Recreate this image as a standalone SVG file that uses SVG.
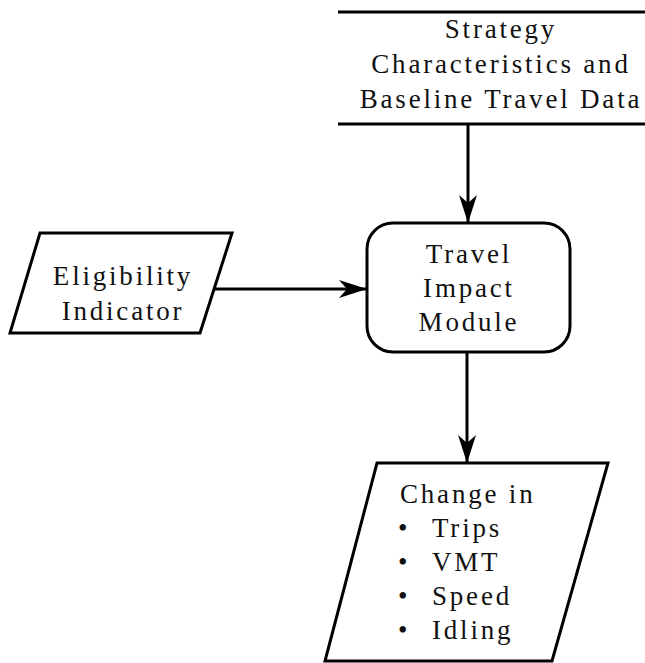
<svg xmlns="http://www.w3.org/2000/svg" width="645" height="663" viewBox="0 0 645 663">
  <style>
    .shape { fill: #fff; stroke: #000; stroke-width: 3; stroke-linejoin: miter; }
    .rule { stroke: #000; stroke-width: 3; fill: none; }
    .label { font-family: 'Liberation Serif', 'Times New Roman', Times, 'Nimbus Roman', 'Noto Serif', 'DejaVu Serif', Tinos, FreeSerif, serif; font-size: 27px; letter-spacing: 2.8px; fill: #111; }
    .mid { text-anchor: middle; }
    .wire { stroke: #000; stroke-width: 3; fill: none; }
  </style>
  <defs>
    <marker id="head" markerUnits="userSpaceOnUse" viewBox="0 0 28 20" refX="27" refY="10" markerWidth="28" markerHeight="20" orient="auto">
      <path d="M0,1 L28,10 L0,19 L8,10 Z" fill="#000"/>
    </marker>
  </defs>

  <rect width="645" height="663" fill="#fff"/>

  <!-- input data block: drawn with top and bottom rules only -->
  <g id="strategy-data">
    <line class="rule" x1="338" y1="12" x2="645" y2="12"/>
    <line class="rule" x1="338" y1="124" x2="645" y2="124"/>
    <text class="label mid" x="501" y="38">Strategy</text>
    <text class="label mid" x="501" y="73">Characteristics and</text>
    <text class="label mid" x="501" y="108">Baseline Travel Data</text>
  </g>

  <g id="eligibility">
    <polygon class="shape" points="40,233 232,233 200,333 10,333"/>
    <text class="label mid" x="123" y="285">Eligibility</text>
    <text class="label mid" x="123" y="320">Indicator</text>
  </g>

  <g id="travel-impact">
    <rect class="shape" x="367" y="223" width="203" height="129" rx="26" ry="26"/>
    <text class="label mid" x="469" y="263">Travel</text>
    <text class="label mid" x="469" y="297">Impact</text>
    <text class="label mid" x="469" y="331">Module</text>
  </g>

  <g id="change-output">
    <polygon class="shape" points="377,463 608,463 552,661 325,661"/>
    <text class="label" x="400" y="503">Change in</text>
    <text class="label" x="398" y="537">•</text>
    <text class="label" x="432" y="537">Trips</text>
    <text class="label" x="398" y="571">•</text>
    <text class="label" x="432" y="571">VMT</text>
    <text class="label" x="398" y="605">•</text>
    <text class="label" x="432" y="605">Speed</text>
    <text class="label" x="398" y="639">•</text>
    <text class="label" x="432" y="639">Idling</text>
  </g>

  <g id="connectors">
    <line class="wire" x1="468" y1="124" x2="468" y2="222" marker-end="url(#head)"/>
    <line class="wire" x1="214" y1="289" x2="366" y2="289" marker-end="url(#head)"/>
    <line class="wire" x1="467" y1="352" x2="467" y2="462" marker-end="url(#head)"/>
  </g>
</svg>
